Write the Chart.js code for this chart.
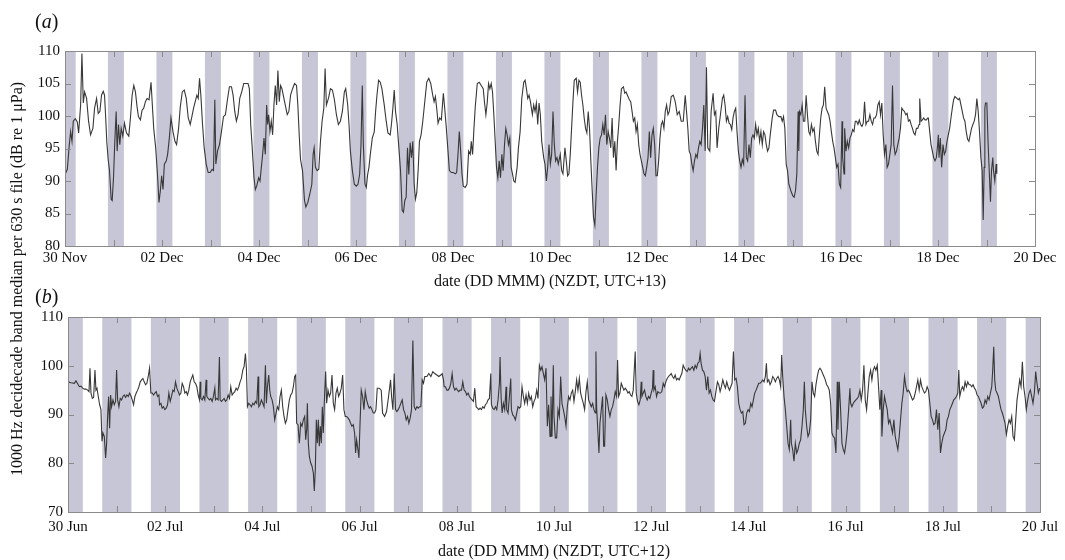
<!DOCTYPE html>
<html>
<head>
<meta charset="utf-8">
<script src="https://cdn.jsdelivr.net/npm/chart.js@4.4.0/dist/chart.umd.min.js"></script>
<style>
  body { margin: 0; background: #fff; width: 1065px; height: 560px; position: relative; overflow: hidden; font-family: 'Liberation Serif', serif; color: #111; }
  .wrap { position: absolute; left: 0; width: 1065px; }
  #wrapA { top: 0; height: 295px; }
  #wrapB { top: 290px; height: 270px; }
  .tag { position: absolute; left: 35px; font-size: 20px; line-height: 1; }
  #ytitle { position: absolute; left: 17px; top: 279px; transform: translate(-50%, -50%) rotate(-90deg); white-space: nowrap; font-size: 16px; }
</style>
</head>
<body>
<div class="wrap" id="wrapA"><canvas id="chartA"></canvas></div>
<div class="wrap" id="wrapB"><canvas id="chartB"></canvas></div>
<div class="tag" style="top:11px">(<i>a</i>)</div>
<div class="tag" style="top:286px">(<i>b</i>)</div>
<div id="ytitle">1000 Hz decidecade band median per 630 s file (dB re 1 μPa)</div>

<script>
// ---------------------------
// Data: time in days since start, level in dB
// ---------------------------

// (a) summer, 30 Nov - 20 Dec
const aDateLabels = ['30 Nov', '02 Dec', '04 Dec', '06 Dec', '08 Dec', '10 Dec', '12 Dec', '14 Dec', '16 Dec', '18 Dec', '20 Dec'];

const aDays = [
  0.000, 0.048, 0.089, 0.116, 0.144, 0.171, 0.212, 0.253, 0.281, 0.322, 0.349, 0.377, 0.404, 0.445, 0.486, 0.527, 0.575, 0.610, 0.651, 0.685, 0.719, 0.753, 0.788, 0.815, 0.836, 0.863, 0.890, 0.918, 0.952, 0.973,
  1.000, 1.027, 1.055, 1.075, 1.103, 1.130, 1.158, 1.192, 1.226, 1.267, 1.315, 1.349, 1.384, 1.418, 1.452, 1.486, 1.514, 1.555, 1.589, 1.623, 1.658, 1.692, 1.733, 1.774, 1.801, 1.829, 1.870, 1.911, 1.938, 1.966, 1.993,
  2.021, 2.048, 2.089, 2.116, 2.151, 2.185, 2.226, 2.267, 2.301, 2.342, 2.377, 2.418, 2.459, 2.500, 2.541, 2.582, 2.616, 2.651, 2.685, 2.719, 2.747, 2.774, 2.801, 2.836, 2.870, 2.911, 2.952, 2.993,
  3.034, 3.062, 3.089, 3.110, 3.144, 3.185, 3.226, 3.267, 3.308, 3.349, 3.390, 3.432, 3.466, 3.500, 3.534, 3.568, 3.603, 3.644, 3.685, 3.726, 3.774, 3.801, 3.829, 3.856, 3.897, 3.925, 3.952, 3.993,
  4.021, 4.048, 4.075, 4.103, 4.130, 4.158, 4.178, 4.199, 4.226, 4.253, 4.281, 4.308, 4.336, 4.363, 4.390, 4.418, 4.445, 4.473, 4.500, 4.541, 4.582, 4.616, 4.651, 4.692, 4.733, 4.774, 4.801, 4.829, 4.856, 4.897, 4.938, 4.966,
  5.007, 5.048, 5.089, 5.116, 5.137, 5.164, 5.199, 5.233, 5.267, 5.301, 5.336, 5.363, 5.390, 5.432, 5.473, 5.514, 5.555, 5.596, 5.637, 5.678, 5.719, 5.760, 5.788, 5.829, 5.856, 5.884, 5.925, 5.966,
  6.007, 6.041, 6.075, 6.103, 6.130, 6.151, 6.185, 6.212, 6.240, 6.267, 6.295, 6.336, 6.377, 6.404, 6.432, 6.466, 6.500, 6.534, 6.582, 6.623, 6.658, 6.705, 6.733, 6.760, 6.788, 6.815, 6.849, 6.884, 6.918, 6.952, 6.979,
  7.007, 7.034, 7.062, 7.089, 7.116, 7.144, 7.171, 7.199, 7.226, 7.253, 7.281, 7.308, 7.342, 7.377, 7.418, 7.459, 7.500, 7.541, 7.582, 7.610, 7.637, 7.664, 7.692, 7.726, 7.760, 7.801, 7.829, 7.863, 7.897, 7.925, 7.966,
  8.007, 8.048, 8.075, 8.103, 8.130, 8.158, 8.185, 8.212, 8.253, 8.288, 8.322, 8.356, 8.377, 8.404, 8.432, 8.459, 8.500, 8.541, 8.582, 8.623, 8.651, 8.678, 8.705, 8.733, 8.760, 8.788, 8.815, 8.842, 8.870, 8.897, 8.925, 8.952, 8.979,
  9.007, 9.034, 9.062, 9.089, 9.116, 9.144, 9.171, 9.199, 9.226, 9.253, 9.281, 9.322, 9.349, 9.384, 9.418, 9.459, 9.486, 9.514, 9.541, 9.568, 9.596, 9.637, 9.664, 9.692, 9.719, 9.747, 9.774, 9.801, 9.829, 9.870, 9.897, 9.925, 9.952, 9.979,
  10.007, 10.034, 10.062, 10.089, 10.116, 10.144, 10.171, 10.212, 10.240, 10.267, 10.308, 10.336, 10.363, 10.390, 10.418, 10.445, 10.473, 10.500, 10.541, 10.568, 10.596, 10.623, 10.651, 10.678, 10.705, 10.733, 10.760, 10.788, 10.815, 10.842, 10.870, 10.897, 10.925, 10.952, 10.979,
  11.007, 11.034, 11.062, 11.089, 11.116, 11.144, 11.171, 11.199, 11.226, 11.253, 11.281, 11.308, 11.336, 11.363, 11.390, 11.418, 11.445, 11.473, 11.514, 11.541, 11.568, 11.596, 11.637, 11.664, 11.692, 11.719, 11.747, 11.774, 11.801, 11.829, 11.856, 11.884, 11.911, 11.938, 11.966, 11.993,
  12.021, 12.048, 12.075, 12.103, 12.130, 12.158, 12.185, 12.212, 12.240, 12.267, 12.295, 12.322, 12.349, 12.377, 12.404, 12.432, 12.459, 12.500, 12.541, 12.582, 12.623, 12.664, 12.705, 12.747, 12.788, 12.815, 12.842, 12.870, 12.897, 12.925, 12.952, 12.979,
  13.007, 13.034, 13.062, 13.089, 13.116, 13.144, 13.171, 13.199, 13.226, 13.253, 13.295, 13.322, 13.363, 13.390, 13.418, 13.445, 13.479, 13.514, 13.555, 13.582, 13.610, 13.637, 13.664, 13.692, 13.719, 13.747, 13.774, 13.801, 13.829, 13.856, 13.884, 13.911, 13.938, 13.966, 13.993,
  14.021, 14.048, 14.075, 14.103, 14.130, 14.158, 14.185, 14.212, 14.240, 14.267, 14.295, 14.322, 14.349, 14.377, 14.404, 14.432, 14.459, 14.486, 14.514, 14.541, 14.582, 14.610, 14.651, 14.678, 14.719, 14.760, 14.788, 14.815, 14.842, 14.870, 14.897, 14.925, 14.966,
  15.007, 15.034, 15.062, 15.089, 15.116, 15.130, 15.144, 15.171, 15.199, 15.226, 15.253, 15.281, 15.308, 15.336, 15.363, 15.390, 15.418, 15.445, 15.473, 15.500, 15.527, 15.555, 15.582, 15.610, 15.637, 15.664, 15.692, 15.719, 15.747, 15.774, 15.801, 15.829, 15.856, 15.884, 15.911, 15.938, 15.966, 15.993,
  16.021, 16.034, 16.062, 16.075, 16.103, 16.130, 16.158, 16.185, 16.212, 16.240, 16.267, 16.295, 16.322, 16.349, 16.377, 16.404, 16.432, 16.459, 16.486, 16.514, 16.541, 16.568, 16.596, 16.623, 16.651, 16.678, 16.705, 16.733, 16.760, 16.788, 16.815, 16.842, 16.870, 16.897, 16.925, 16.952, 16.979,
  17.007, 17.034, 17.062, 17.089, 17.116, 17.144, 17.171, 17.199, 17.226, 17.253, 17.281, 17.308, 17.336, 17.363, 17.390, 17.418, 17.445, 17.473, 17.500, 17.527, 17.555, 17.582, 17.610, 17.623, 17.651, 17.678, 17.705, 17.733, 17.760, 17.788, 17.801, 17.829, 17.856, 17.884, 17.911, 17.938, 17.966, 17.993,
  18.007, 18.021, 18.048, 18.075, 18.103, 18.130, 18.158, 18.185, 18.212, 18.240, 18.267, 18.295, 18.322, 18.349, 18.390, 18.418, 18.445, 18.473, 18.500, 18.527, 18.555, 18.582, 18.610, 18.637, 18.664, 18.692, 18.719, 18.747, 18.774, 18.801, 18.829, 18.856, 18.884, 18.911, 18.932, 18.952, 18.966, 18.979,
  19.007, 19.034, 19.062, 19.082, 19.103, 19.130, 19.144, 19.171, 19.199, 19.212
];

const aLevel = [
  91.0, 91.8, 95.6, 97.6, 96.1, 99.2, 99.6, 99.1, 97.4, 101.7, 109.6, 102.0, 103.7, 102.7, 99.2, 97.1, 98.1, 101.2, 102.7, 100.4, 100.7, 103.2, 103.8, 103.2, 100.2, 95.9, 93.3, 91.6, 87.2, 87.0,
  90.5, 96.1, 100.7, 94.6, 98.7, 95.6, 98.1, 96.9, 98.9, 97.4, 96.9, 99.7, 103.2, 104.7, 103.7, 101.4, 99.9, 99.4, 100.9, 101.2, 102.2, 102.7, 102.5, 105.2, 101.7, 98.1, 95.1, 90.5, 86.7, 88.5, 90.8,
  88.7, 92.6, 93.1, 94.1, 96.6, 99.7, 97.6, 96.1, 95.6, 98.1, 101.4, 103.7, 104.0, 102.7, 99.7, 98.7, 99.9, 101.2, 102.2, 103.2, 102.7, 105.8, 103.2, 98.7, 95.1, 92.6, 91.3, 91.3,
  91.8, 91.6, 102.5, 92.6, 94.6, 95.6, 97.6, 99.9, 100.2, 102.5, 104.5, 104.5, 103.2, 100.7, 99.2, 100.2, 102.7, 103.7, 105.0, 105.0, 105.0, 104.2, 98.7, 95.6, 90.5, 88.7, 89.2, 90.5,
  90.0, 92.1, 94.1, 96.6, 94.1, 101.7, 98.7, 100.2, 97.6, 99.2, 97.1, 101.7, 104.7, 101.7, 107.0, 102.2, 104.7, 104.2, 103.2, 101.7, 100.2, 100.7, 103.2, 104.2, 105.0, 104.7, 101.7, 97.1, 93.3, 91.6, 87.0, 86.0,
  86.7, 88.0, 89.5, 94.1, 95.1, 92.1, 91.6, 91.8, 96.1, 99.2, 101.2, 107.3, 101.7, 102.7, 104.2, 104.0, 102.5, 100.2, 98.7, 99.2, 100.7, 103.7, 104.2, 101.7, 98.7, 94.6, 91.6, 89.5,
  89.2, 89.5, 91.0, 95.6, 104.7, 95.6, 89.5, 89.0, 91.0, 92.1, 94.1, 96.6, 97.6, 100.7, 103.2, 105.5, 105.2, 104.2, 101.7, 99.2, 97.4, 97.1, 98.9, 101.2, 104.0, 100.7, 98.7, 95.1, 91.6, 85.5, 85.2,
  87.0, 87.5, 95.1, 91.0, 95.9, 93.6, 96.1, 89.5, 87.2, 88.2, 91.6, 96.1, 97.1, 99.2, 102.2, 105.2, 105.8, 105.0, 103.2, 102.2, 103.0, 101.2, 98.9, 99.7, 99.4, 103.5, 101.2, 98.1, 94.6, 91.6, 91.3,
  91.3, 91.1, 91.3, 94.1, 97.6, 94.6, 91.1, 89.2, 89.0, 89.5, 94.6, 94.1, 96.1, 94.1, 98.1, 101.4, 105.0, 105.2, 104.7, 104.2, 102.0, 100.2, 102.0, 105.0, 104.2, 105.0, 103.7, 100.2, 96.1, 92.1, 90.5, 93.1, 90.5,
  94.1, 91.6, 95.6, 98.1, 97.1, 95.6, 96.6, 92.1, 91.1, 90.0, 89.8, 92.1, 95.1, 97.6, 102.7, 105.2, 105.5, 104.2, 102.7, 103.2, 102.2, 100.2, 101.7, 100.7, 102.0, 98.7, 102.0, 100.2, 96.1, 93.6, 92.6, 90.0, 92.1, 95.6,
  92.6, 94.1, 100.7, 95.6, 93.1, 93.6, 92.6, 94.1, 91.6, 91.1, 95.1, 93.1, 90.8, 91.1, 94.1, 98.1, 102.2, 105.5, 105.8, 103.7, 105.5, 105.2, 103.2, 101.7, 99.7, 98.1, 97.4, 100.7, 98.1, 93.1, 88.5, 84.4, 83.2, 88.0, 92.1,
  95.1, 96.6, 97.1, 98.7, 97.1, 100.2, 95.6, 97.6, 96.6, 95.1, 99.7, 93.6, 96.1, 91.6, 96.1, 98.7, 101.7, 104.2, 104.5, 103.5, 103.7, 103.2, 102.5, 102.2, 100.7, 99.2, 99.7, 97.6, 98.7, 95.6, 94.1, 93.1, 92.1, 91.1, 90.8, 92.1,
  93.6, 97.6, 93.6, 97.1, 98.1, 95.6, 90.8, 90.8, 93.1, 96.6, 98.7, 99.2, 98.1, 100.7, 101.7, 100.2, 100.7, 103.0, 103.2, 102.2, 100.2, 100.7, 99.2, 99.2, 103.2, 100.7, 98.1, 94.6, 94.1, 92.6, 91.6, 93.1,
  94.1, 93.6, 95.1, 96.1, 95.6, 98.1, 101.7, 94.6, 107.5, 95.1, 94.6, 100.7, 103.5, 100.2, 100.7, 95.1, 98.1, 100.2, 102.7, 103.2, 101.7, 99.2, 99.9, 98.9, 98.7, 97.9, 99.7, 100.7, 101.2, 97.6, 94.6, 93.1, 92.1, 93.3, 92.6,
  103.2, 93.6, 93.1, 95.6, 93.6, 96.6, 97.1, 96.6, 98.7, 97.1, 98.1, 96.1, 97.6, 95.6, 97.6, 97.1, 95.6, 94.6, 95.1, 97.1, 99.7, 100.9, 100.9, 100.2, 99.9, 99.9, 99.2, 99.9, 98.1, 92.6, 91.6, 89.5, 88.5,
  87.7, 87.5, 88.5, 91.1, 100.7, 94.6, 100.7, 100.2, 101.7, 99.2, 99.2, 103.2, 100.2, 97.6, 97.1, 98.7, 97.6, 98.1, 96.1, 94.6, 94.1, 97.1, 99.7, 101.2, 101.7, 104.5, 101.2, 100.7, 100.2, 99.2, 97.6, 96.1, 95.1, 93.6, 92.1, 92.6, 89.5, 89.0,
  99.2, 93.6, 91.1, 98.1, 94.6, 96.1, 95.1, 96.6, 97.1, 97.9, 97.6, 99.2, 99.2, 98.7, 99.4, 98.7, 98.4, 98.9, 102.2, 98.7, 99.2, 99.2, 100.2, 99.2, 98.7, 99.7, 99.7, 100.2, 101.7, 102.2, 100.2, 102.0, 97.1, 94.1, 95.6, 92.1, 92.6,
  94.1, 95.6, 104.7, 95.6, 94.1, 94.6, 95.6, 96.6, 98.1, 101.2, 100.9, 100.7, 100.2, 100.4, 99.2, 99.4, 98.7, 98.1, 97.4, 97.1, 98.1, 98.1, 98.7, 102.7, 99.2, 99.4, 99.7, 99.4, 99.4, 99.7, 99.7, 97.6, 95.6, 94.6, 93.6, 93.1, 93.6, 95.6,
  97.1, 93.6, 96.6, 92.1, 95.6, 94.1, 94.6, 96.1, 97.1, 98.1, 99.7, 101.2, 102.5, 103.0, 102.7, 102.5, 102.7, 101.7, 100.7, 99.7, 99.2, 97.6, 96.4, 96.1, 97.1, 98.1, 98.7, 99.2, 100.2, 102.7, 100.7, 97.6, 93.6, 91.6, 84.0, 92.1, 101.2, 102.0,
  102.0, 95.6, 90.5, 86.8, 91.6, 93.6, 91.6, 90.0, 92.6, 91.1
];

// night (shaded) periods, days since start
const aNightStart = [0, 0.885, 1.885, 2.885, 3.885, 4.885, 5.885, 6.885, 7.885, 8.885, 9.885, 10.885, 11.885, 12.885, 13.885, 14.885, 15.885, 16.885, 17.885, 18.885];
const aNightEnd = [0.22, 1.215, 2.215, 3.215, 4.215, 5.215, 6.215, 7.215, 8.215, 9.215, 10.215, 11.215, 12.215, 13.215, 14.215, 15.215, 16.215, 17.215, 18.215, 19.215];

// (b) winter, 30 Jun - 20 Jul
const bDateLabels = ['30 Jun', '02 Jul', '04 Jul', '06 Jul', '08 Jul', '10 Jul', '12 Jul', '14 Jul', '16 Jul', '18 Jul', '20 Jul'];

const bDays = [
  0.000, 0.062, 0.130, 0.164, 0.199, 0.233, 0.267, 0.301, 0.336, 0.370, 0.404, 0.432, 0.452, 0.473, 0.500, 0.527, 0.555, 0.575, 0.596, 0.623, 0.651, 0.678, 0.699, 0.719, 0.747, 0.774, 0.795, 0.815, 0.836, 0.856, 0.877, 0.897, 0.925, 0.952, 0.979,
  1.000, 1.021, 1.048, 1.075, 1.103, 1.130, 1.158, 1.185, 1.212, 1.240, 1.267, 1.295, 1.322, 1.349, 1.377, 1.404, 1.432, 1.459, 1.486, 1.514, 1.541, 1.568, 1.596, 1.623, 1.651, 1.678, 1.705, 1.733, 1.760, 1.788, 1.815, 1.842, 1.870, 1.884, 1.911, 1.938, 1.966, 1.993,
  2.021, 2.048, 2.075, 2.103, 2.130, 2.158, 2.185, 2.212, 2.240, 2.267, 2.295, 2.322, 2.349, 2.377, 2.404, 2.432, 2.459, 2.486, 2.514, 2.541, 2.568, 2.596, 2.623, 2.651, 2.678, 2.705, 2.719, 2.733, 2.760, 2.788, 2.815, 2.842, 2.856, 2.884, 2.911, 2.938, 2.966, 2.993,
  3.021, 3.034, 3.062, 3.089, 3.116, 3.130, 3.158, 3.185, 3.212, 3.240, 3.267, 3.295, 3.322, 3.349, 3.377, 3.404, 3.432, 3.459, 3.486, 3.514, 3.541, 3.568, 3.596, 3.623, 3.651, 3.671, 3.692, 3.719, 3.747, 3.774, 3.801, 3.829, 3.856, 3.884, 3.911, 3.925, 3.952, 3.979,
  4.007, 4.034, 4.062, 4.082, 4.103, 4.130, 4.151, 4.171, 4.199, 4.226, 4.253, 4.281, 4.308, 4.336, 4.363, 4.390, 4.418, 4.445, 4.473, 4.500, 4.527, 4.555, 4.582, 4.610, 4.637, 4.664, 4.685, 4.705, 4.733, 4.760, 4.788, 4.815, 4.842, 4.870, 4.890, 4.911, 4.925, 4.945, 4.966, 4.993,
  5.021, 5.048, 5.068, 5.089, 5.110, 5.130, 5.151, 5.171, 5.192, 5.212, 5.233, 5.253, 5.281, 5.301, 5.322, 5.349, 5.377, 5.404, 5.432, 5.459, 5.486, 5.514, 5.541, 5.568, 5.596, 5.623, 5.651, 5.678, 5.705, 5.733, 5.760, 5.788, 5.815, 5.842, 5.870, 5.897, 5.918, 5.938, 5.966, 5.986,
  6.007, 6.034, 6.062, 6.089, 6.116, 6.144, 6.171, 6.199, 6.226, 6.253, 6.281, 6.308, 6.336, 6.363, 6.404, 6.445, 6.473, 6.514, 6.555, 6.596, 6.637, 6.658, 6.685, 6.712, 6.740, 6.767, 6.795, 6.822, 6.849, 6.877, 6.904, 6.932, 6.959, 6.986,
  7.014, 7.041, 7.068, 7.096, 7.123, 7.151, 7.178, 7.205, 7.233, 7.260, 7.288, 7.315, 7.342, 7.384, 7.425, 7.466, 7.507, 7.548, 7.589, 7.630, 7.671, 7.699, 7.726, 7.740, 7.767, 7.795, 7.822, 7.849, 7.877, 7.904, 7.932, 7.959, 7.986,
  8.014, 8.041, 8.068, 8.096, 8.123, 8.151, 8.178, 8.205, 8.233, 8.260, 8.288, 8.315, 8.342, 8.370, 8.397, 8.425, 8.452, 8.479, 8.507, 8.534, 8.562, 8.589, 8.616, 8.644, 8.671, 8.699, 8.712, 8.740, 8.767, 8.795, 8.822, 8.849, 8.877, 8.890, 8.911, 8.932, 8.959, 8.986,
  9.014, 9.027, 9.055, 9.082, 9.110, 9.123, 9.151, 9.178, 9.205, 9.233, 9.260, 9.288, 9.315, 9.342, 9.370, 9.397, 9.425, 9.452, 9.479, 9.507, 9.534, 9.562, 9.589, 9.616, 9.644, 9.671, 9.699, 9.726, 9.753, 9.781, 9.808, 9.836, 9.863, 9.890, 9.918, 9.938, 9.959, 9.986,
  10.000, 10.027, 10.055, 10.082, 10.110, 10.137, 10.164, 10.192, 10.219, 10.247, 10.274, 10.301, 10.329, 10.356, 10.384, 10.411, 10.438, 10.466, 10.493, 10.521, 10.548, 10.575, 10.603, 10.630, 10.658, 10.685, 10.712, 10.740, 10.767, 10.795, 10.822, 10.849, 10.863, 10.877, 10.904, 10.925, 10.945, 10.973,
  11.000, 11.021, 11.041, 11.068, 11.096, 11.123, 11.151, 11.178, 11.205, 11.233, 11.260, 11.288, 11.308, 11.329, 11.356, 11.384, 11.411, 11.438, 11.466, 11.493, 11.521, 11.548, 11.575, 11.603, 11.630, 11.644, 11.671, 11.692, 11.719, 11.747, 11.774, 11.795, 11.808, 11.836, 11.863, 11.890, 11.918, 11.945, 11.973,
  12.000, 12.027, 12.041, 12.055, 12.082, 12.110, 12.137, 12.164, 12.192, 12.219, 12.247, 12.274, 12.301, 12.329, 12.356, 12.384, 12.411, 12.438, 12.466, 12.493, 12.521, 12.548, 12.575, 12.603, 12.630, 12.658, 12.685, 12.712, 12.740, 12.767, 12.795, 12.822, 12.849, 12.877, 12.904, 12.932, 12.959, 12.986,
  13.007, 13.027, 13.055, 13.082, 13.110, 13.137, 13.164, 13.192, 13.219, 13.247, 13.274, 13.301, 13.336, 13.363, 13.390, 13.418, 13.445, 13.473, 13.500, 13.527, 13.555, 13.582, 13.610, 13.637, 13.664, 13.692, 13.719, 13.747, 13.774, 13.801, 13.829, 13.856, 13.884, 13.911, 13.938, 13.966, 13.993,
  14.021, 14.048, 14.075, 14.103, 14.130, 14.158, 14.185, 14.212, 14.240, 14.267, 14.295, 14.322, 14.349, 14.370, 14.390, 14.418, 14.445, 14.473, 14.500, 14.527, 14.555, 14.582, 14.610, 14.637, 14.664, 14.685, 14.705, 14.733, 14.760, 14.788, 14.815, 14.842, 14.870, 14.884, 14.911, 14.938, 14.966, 14.993,
  15.021, 15.048, 15.075, 15.103, 15.130, 15.151, 15.171, 15.199, 15.226, 15.253, 15.281, 15.308, 15.336, 15.363, 15.390, 15.418, 15.445, 15.473, 15.500, 15.527, 15.555, 15.582, 15.610, 15.637, 15.664, 15.692, 15.719, 15.747, 15.774, 15.801, 15.829, 15.842, 15.870, 15.897, 15.925, 15.952, 15.979,
  16.007, 16.034, 16.062, 16.089, 16.103, 16.130, 16.158, 16.185, 16.212, 16.240, 16.267, 16.295, 16.322, 16.349, 16.377, 16.404, 16.432, 16.459, 16.486, 16.514, 16.541, 16.568, 16.596, 16.623, 16.651, 16.678, 16.705, 16.733, 16.747, 16.774, 16.801, 16.829, 16.856, 16.884, 16.911, 16.938, 16.966, 16.993,
  17.021, 17.048, 17.075, 17.103, 17.130, 17.158, 17.185, 17.212, 17.240, 17.267, 17.295, 17.322, 17.349, 17.377, 17.404, 17.432, 17.459, 17.486, 17.514, 17.541, 17.568, 17.596, 17.623, 17.651, 17.678, 17.705, 17.733, 17.760, 17.788, 17.815, 17.842, 17.870, 17.897, 17.925, 17.952, 17.979,
  18.007, 18.034, 18.062, 18.089, 18.116, 18.144, 18.171, 18.199, 18.226, 18.253, 18.281, 18.308, 18.329, 18.349, 18.377, 18.404, 18.432, 18.459, 18.486, 18.514, 18.541, 18.568, 18.596, 18.623, 18.651, 18.678, 18.705, 18.733, 18.760, 18.788, 18.815, 18.842, 18.870, 18.897, 18.925, 18.952, 18.979,
  19.007, 19.027, 19.048, 19.068, 19.089, 19.116, 19.144, 19.171, 19.199, 19.226, 19.253, 19.281, 19.308, 19.336, 19.363, 19.390, 19.418, 19.445, 19.473, 19.500, 19.527, 19.555, 19.582, 19.610, 19.637, 19.664, 19.692, 19.719, 19.747, 19.774, 19.801, 19.829, 19.856, 19.884, 19.911, 19.938, 19.966, 19.993
];

const bLevel = [
  96.7, 96.5, 96.4, 96.9, 96.3, 95.7, 95.8, 95.4, 95.2, 95.2, 95.0, 94.7, 99.5, 94.4, 93.3, 93.5, 99.1, 95.0, 95.4, 93.7, 92.0, 91.0, 84.5, 86.2, 85.5, 81.1, 84.1, 89.6, 93.7, 87.2, 94.0, 91.6, 93.0, 92.0, 92.7,
  99.1, 93.0, 91.6, 93.3, 93.0, 93.7, 94.0, 93.5, 94.0, 93.7, 94.4, 93.8, 93.0, 92.0, 93.7, 94.4, 95.0, 95.7, 96.7, 97.1, 97.4, 96.7, 96.1, 96.4, 97.8, 99.5, 94.4, 94.4, 94.0, 94.4, 94.7, 93.7, 94.0, 92.0, 92.3, 91.3, 91.6, 91.0,
  91.3, 92.0, 94.4, 92.7, 93.7, 95.0, 94.7, 96.7, 95.4, 94.7, 94.0, 94.4, 96.4, 95.7, 94.4, 94.7, 94.0, 95.0, 96.7, 97.4, 98.1, 96.7, 96.4, 95.7, 94.0, 93.0, 96.7, 93.3, 93.0, 93.7, 93.0, 97.1, 93.7, 93.3, 93.0, 93.3, 92.7, 93.7,
  95.4, 93.0, 93.3, 93.0, 101.8, 93.0, 92.7, 93.0, 93.3, 92.7, 93.0, 94.0, 93.3, 95.7, 94.0, 94.4, 94.7, 95.4, 95.0, 95.7, 96.7, 97.4, 99.1, 99.8, 102.5, 99.5, 91.6, 92.3, 92.0, 91.6, 92.3, 92.0, 92.7, 92.3, 97.8, 91.6, 92.0, 93.0,
  92.3, 91.6, 100.1, 92.3, 95.7, 98.1, 95.0, 93.7, 93.0, 91.6, 88.9, 90.3, 91.6, 91.0, 93.7, 95.0, 91.6, 89.6, 88.2, 88.9, 91.0, 93.0, 94.0, 94.4, 95.7, 97.8, 98.1, 88.2, 87.9, 84.1, 88.2, 87.6, 88.9, 89.6, 84.8, 86.9, 92.3, 84.1, 81.4, 80.1,
  79.4, 78.0, 74.3, 78.7, 88.9, 84.1, 88.9, 83.5, 87.6, 84.1, 91.6, 86.2, 94.4, 98.8, 92.3, 95.0, 93.7, 94.4, 98.1, 92.3, 91.0, 94.4, 95.4, 93.7, 94.4, 95.4, 98.1, 91.0, 89.6, 89.6, 89.3, 88.9, 88.2, 87.6, 87.9, 86.2, 82.1, 84.8, 82.8, 81.1,
  87.6, 95.0, 93.7, 91.0, 94.7, 93.0, 92.0, 91.3, 91.6, 91.0, 90.3, 90.3, 91.0, 95.4, 95.4, 95.0, 90.3, 89.6, 90.6, 93.7, 97.1, 93.7, 91.0, 98.4, 91.0, 90.6, 91.0, 91.6, 92.3, 93.0, 91.0, 90.3, 88.9, 89.6,
  88.2, 89.3, 91.0, 105.2, 91.6, 91.0, 91.6, 91.3, 91.6, 91.6, 97.1, 96.4, 97.8, 97.8, 98.4, 97.8, 98.8, 98.4, 98.1, 97.8, 98.1, 98.4, 97.1, 95.7, 95.7, 95.0, 95.0, 95.4, 96.4, 98.4, 95.7, 95.0, 95.4,
  95.0, 94.7, 95.0, 95.0, 96.7, 95.0, 94.7, 94.0, 94.4, 93.7, 93.3, 93.0, 92.7, 95.4, 91.6, 91.3, 91.0, 91.3, 91.0, 91.6, 91.3, 92.0, 92.3, 93.0, 93.3, 98.4, 92.0, 91.3, 91.0, 91.6, 91.0, 93.0, 96.4, 101.8, 93.7, 90.3, 92.3, 91.0,
  95.7, 91.0, 90.3, 93.7, 97.4, 91.0, 89.9, 89.6, 88.9, 90.3, 91.6, 91.3, 91.6, 95.7, 93.7, 92.3, 94.0, 92.3, 94.4, 93.0, 93.7, 91.6, 92.7, 93.3, 95.0, 93.3, 100.1, 99.1, 99.8, 98.4, 97.1, 99.5, 87.6, 92.0, 85.5, 93.7, 85.5, 100.1,
  89.6, 85.2, 85.2, 91.0, 89.6, 97.8, 92.3, 91.0, 89.6, 87.6, 91.6, 93.7, 93.0, 94.4, 95.0, 92.7, 94.7, 97.1, 95.0, 97.4, 94.4, 93.3, 92.3, 91.0, 94.7, 96.7, 93.0, 92.3, 91.6, 92.3, 91.0, 90.3, 102.9, 91.6, 86.2, 82.1, 88.2, 91.0,
  93.7, 83.5, 83.5, 94.0, 93.0, 91.0, 89.6, 91.0, 91.6, 93.0, 94.7, 93.7, 101.2, 93.7, 94.4, 96.4, 95.7, 95.0, 95.4, 95.0, 94.4, 94.7, 94.0, 93.7, 95.0, 95.0, 102.9, 94.4, 92.7, 92.0, 93.0, 96.7, 93.7, 94.4, 95.0, 93.7, 93.0, 93.7, 93.3,
  94.4, 95.4, 99.1, 95.0, 95.7, 93.7, 94.7, 94.4, 94.4, 94.7, 96.4, 95.7, 96.7, 97.4, 97.8, 98.1, 98.4, 97.8, 97.4, 98.1, 97.1, 97.4, 97.1, 97.8, 98.4, 100.1, 99.5, 99.1, 98.8, 99.5, 99.1, 99.5, 99.8, 99.1, 100.1, 99.5, 100.5, 100.8,
  102.5, 100.5, 99.1, 98.8, 97.8, 95.0, 97.8, 94.4, 95.0, 93.7, 93.0, 92.7, 95.0, 96.7, 96.1, 94.7, 95.7, 97.1, 96.1, 95.4, 96.7, 95.7, 95.0, 95.7, 96.4, 102.9, 97.1, 97.4, 95.7, 92.3, 91.0, 90.3, 90.6, 87.9, 88.2, 90.3, 91.0,
  90.6, 92.3, 91.6, 93.0, 94.4, 95.0, 95.7, 96.4, 96.4, 96.7, 97.1, 96.7, 97.8, 100.5, 96.7, 97.1, 96.1, 96.7, 97.8, 97.4, 96.7, 97.4, 97.8, 97.1, 95.7, 102.2, 97.8, 93.7, 91.0, 87.6, 84.1, 82.8, 88.9, 84.1, 82.8, 80.4, 84.1, 82.1,
  82.8, 84.1, 84.8, 87.6, 91.0, 96.7, 91.0, 87.6, 85.5, 86.2, 88.9, 96.7, 94.4, 93.7, 96.1, 97.8, 99.1, 99.5, 99.1, 98.4, 97.8, 97.1, 96.1, 95.7, 95.0, 92.3, 86.2, 85.5, 85.2, 82.1, 96.7, 86.9, 96.7, 91.0, 84.1, 82.8, 82.1,
  84.1, 86.9, 91.0, 95.4, 92.3, 91.6, 92.3, 92.7, 93.0, 93.3, 93.7, 95.0, 93.0, 95.0, 100.1, 93.0, 91.0, 94.4, 97.8, 99.1, 97.1, 99.1, 99.8, 99.1, 100.1, 95.7, 91.0, 95.0, 85.5, 91.0, 93.7, 92.3, 91.0, 88.2, 88.9, 87.6, 86.2, 88.9,
  85.5, 84.1, 82.8, 85.5, 88.9, 92.3, 94.4, 97.8, 95.7, 94.7, 95.0, 94.4, 93.7, 93.0, 93.3, 94.4, 95.7, 97.1, 95.0, 97.1, 95.7, 95.0, 94.4, 94.7, 95.7, 95.0, 92.3, 89.6, 88.9, 87.9, 88.2, 91.0, 86.9, 90.3, 82.1, 84.1,
  85.5, 86.2, 86.9, 88.9, 89.6, 91.0, 91.6, 92.3, 93.0, 93.3, 93.7, 94.4, 99.1, 93.7, 95.0, 95.7, 95.0, 96.7, 95.7, 96.7, 96.1, 96.1, 95.7, 96.1, 95.4, 95.0, 94.0, 93.7, 93.0, 92.3, 91.3, 91.6, 93.0, 92.3, 93.7, 93.0, 94.4,
  95.7, 99.1, 103.9, 97.1, 95.0, 94.4, 93.7, 92.3, 91.0, 90.3, 89.3, 88.2, 85.9, 87.6, 88.9, 88.2, 89.6, 85.5, 84.8, 88.9, 93.0, 95.0, 97.1, 95.7, 100.8, 95.7, 93.7, 91.0, 93.0, 94.4, 95.0, 93.7, 92.3, 94.4, 98.8, 96.4, 94.4, 95.4
];

const bNightStart = [0, 0.705, 1.705, 2.705, 3.705, 4.705, 5.705, 6.705, 7.705, 8.705, 9.705, 10.705, 11.705, 12.705, 13.705, 14.705, 15.705, 16.705, 17.705, 18.705, 19.705];
const bNightEnd = [0.305, 1.305, 2.305, 3.305, 4.305, 5.305, 6.305, 7.305, 8.305, 9.305, 10.305, 11.305, 12.305, 13.305, 14.305, 15.305, 16.305, 17.305, 18.305, 19.305, 20];

if (aDays.length !== aLevel.length) throw new Error(`panel a: ${aDays.length} days vs ${aLevel.length} levels`);
if (bDays.length !== bLevel.length) throw new Error(`panel b: ${bDays.length} days vs ${bLevel.length} levels`);

// ---------------------------
// Plugins: night shading + boxed frame with inward ticks
// ---------------------------
const nightBands = {
  id: 'nightBands',
  beforeDatasetsDraw(chart, args, opts) {
    const { ctx, chartArea: area, scales: { x } } = chart;
    ctx.save();
    ctx.fillStyle = opts.color;
    opts.starts.forEach((s, i) => {
      const x1 = x.getPixelForValue(s);
      const x2 = x.getPixelForValue(opts.ends[i]);
      ctx.fillRect(x1, area.top, x2 - x1, area.bottom - area.top);
    });
    ctx.restore();
  }
};

const frame = {
  id: 'frame',
  afterDatasetsDraw(chart) {
    const { ctx, chartArea: area, scales: { x, y } } = chart;
    const len = 6;
    ctx.save();
    ctx.strokeStyle = '#8a8a8a';
    ctx.lineWidth = 1;
    ctx.beginPath();
    x.ticks.forEach(t => {
      const px = Math.round(x.getPixelForValue(t.value)) + 0.5;
      ctx.moveTo(px, area.top); ctx.lineTo(px, area.top + len);
      ctx.moveTo(px, area.bottom); ctx.lineTo(px, area.bottom - len);
    });
    y.ticks.forEach(t => {
      const py = Math.round(y.getPixelForValue(t.value)) + 0.5;
      ctx.moveTo(area.left, py); ctx.lineTo(area.left + len, py);
      ctx.moveTo(area.right, py); ctx.lineTo(area.right - len, py);
    });
    ctx.stroke();
    ctx.strokeRect(Math.round(area.left) + 0.5, Math.round(area.top) + 0.5,
      Math.round(area.right - area.left), Math.round(area.bottom - area.top));
    ctx.restore();
  }
};

// ---------------------------
// Build one panel
// ---------------------------
function makePanel(canvasId, p) {
  const font = { family: "'Liberation Serif', serif", size: 15 };
  return new Chart(document.getElementById(canvasId), {
    type: 'line',
    data: {
      datasets: [{
        data: p.days.map((d, i) => ({ x: d, y: p.level[i] })),
        borderColor: '#383838',
        borderWidth: 1.1,
        pointRadius: 0,
        tension: 0,
        fill: false
      }]
    },
    options: {
      responsive: true,
      maintainAspectRatio: false,
      animation: false,
      events: [],
      layout: { padding: { top: p.top, right: p.right, left: 0, bottom: 0 } },
      plugins: {
        legend: { display: false },
        tooltip: { enabled: false },
        nightBands: { color: '#c6c6d6', starts: p.nightStart, ends: p.nightEnd }
      },
      scales: {
        x: {
          type: 'linear',
          min: 0,
          max: 20,
          grid: { display: false, drawTicks: false },
          border: { display: false },
          afterFit: s => { s.height = p.xHeight; },
          ticks: {
            stepSize: 1,
            autoSkip: false,
            maxRotation: 0,
            padding: p.tickPad,
            color: '#111',
            font,
            callback: v => (v % 2 === 0 ? p.dateLabels[v / 2] : '')
          },
          title: {
            display: true,
            text: p.xTitle,
            color: '#111',
            font: { family: "'Liberation Serif', serif", size: 16, lineHeight: 1 },
            padding: { top: 0, bottom: p.titlePad }
          }
        },
        y: {
          min: p.yMin,
          max: p.yMax,
          grid: { display: false, drawTicks: false },
          border: { display: false },
          afterFit: s => { s.width = p.yWidth; },
          ticks: { stepSize: p.yStep, padding: 5, color: '#111', font }
        }
      }
    },
    plugins: [nightBands, frame]
  });
}

makePanel('chartA', {
  days: aDays, level: aLevel, nightStart: aNightStart, nightEnd: aNightEnd,
  dateLabels: aDateLabels, xTitle: 'date (DD MMM) (NZDT, UTC+13)',
  yMin: 80, yMax: 110, yStep: 5,
  top: 51, right: 30, yWidth: 65, xHeight: 49, tickPad: 3, titlePad: 5
});

makePanel('chartB', {
  days: bDays, level: bLevel, nightStart: bNightStart, nightEnd: bNightEnd,
  dateLabels: bDateLabels, xTitle: 'date (DD MMM) (NZDT, UTC+12)',
  yMin: 70, yMax: 110, yStep: 10,
  top: 27, right: 25, yWidth: 68, xHeight: 48, tickPad: 6, titlePad: 0
});
</script>
</body>
</html>
